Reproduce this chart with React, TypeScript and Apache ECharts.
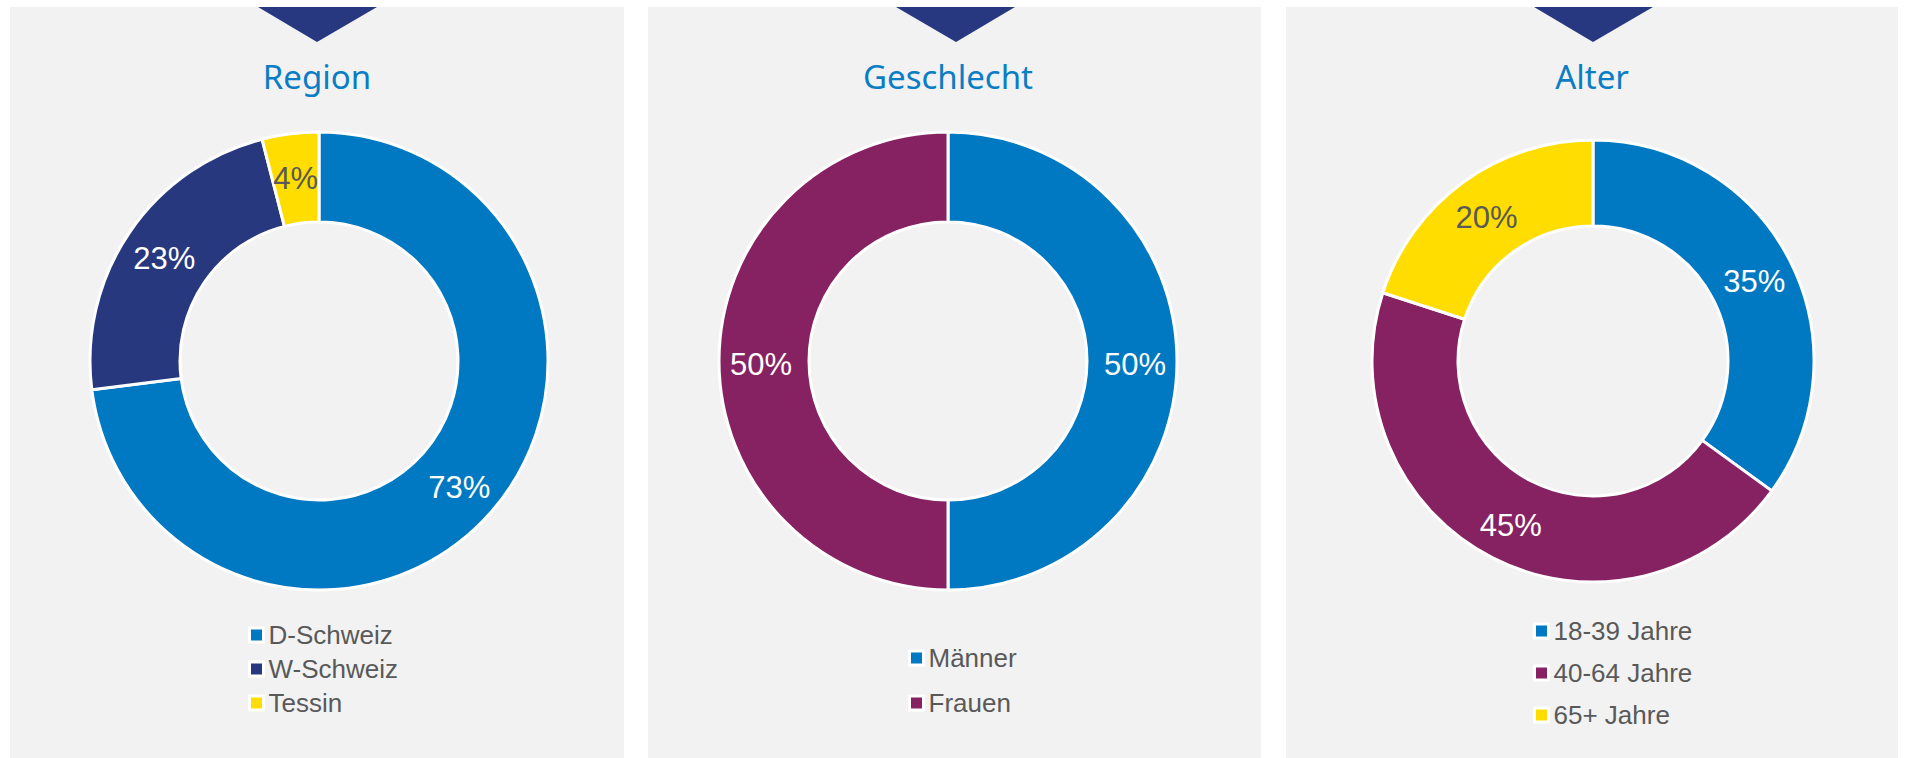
import React, { useEffect, useRef } from "react";
import * as echarts from "echarts";

// ---- data ----
const regionNames = ["D-Schweiz", "W-Schweiz", "Tessin"];
const regionValues = [73, 23, 4];
const genderNames = ["Männer", "Frauen"];
const genderValues = [50, 50];
const ageNames = ["18-39 Jahre", "40-64 Jahre", "65+ Jahre"];
const ageValues = [35, 45, 20];
const panelTitles = ["Region", "Geschlecht", "Alter"];

// ---- styling ----
const BLUE = "#0079C2";
const NAVY = "#27387F";
const YELLOW = "#FFDD00";
const PURPLE = "#862262";
const regionColors = [BLUE, NAVY, YELLOW];
const genderColors = [BLUE, PURPLE];
const ageColors = [BLUE, PURPLE, YELLOW];
const TEXT_GRAY = "#595959";
const LABEL_FONT = "'Liberation Sans', Arial, sans-serif";

function buildData(names: string[], values: number[], colors: string[]) {
  return names.map((n, i) => ({
    name: n,
    value: values[i],
    itemStyle: { color: colors[i] },
    label: { color: colors[i] === YELLOW ? TEXT_GRAY : "#ffffff" },
  }));
}

function pieSeries(
  name: string,
  center: [number, number],
  radius: [number, number],
  data: any[]
) {
  return {
    type: "pie",
    name,
    center,
    radius,
    startAngle: 90,
    clockwise: true,
    avoidLabelOverlap: false,
    itemStyle: { borderColor: "#ffffff", borderWidth: 3 },
    label: {
      show: true,
      position: "inside",
      formatter: "{c}%",
      fontSize: 31,
      fontFamily: LABEL_FONT,
      offset: [0, 3],
    },
    labelLine: { show: false },
    emphasis: { disabled: true },
    data,
  };
}

function legend(names: string[], left: number, top: number, gap: number) {
  return {
    data: names,
    orient: "vertical",
    left,
    top,
    padding: 0,
    itemGap: gap,
    itemWidth: 14,
    itemHeight: 14,
    icon: "rect",
    itemStyle: { borderColor: "#ffffff", borderWidth: 3 },
    textStyle: {
      fontSize: 26,
      lineHeight: 26,
      color: TEXT_GRAY,
      fontFamily: LABEL_FONT,
    },
    selectedMode: false,
  };
}

const panels = [
  { x: 10, w: 614, tri: [258, 377], tip: 317, titleX: 317 },
  { x: 648, w: 613, tri: [896, 1015], tip: 956, titleX: 948 },
  { x: 1286, w: 612, tri: [1534, 1653], tip: 1593, titleX: 1592 },
];

export default function App() {
  const ref = useRef<HTMLDivElement>(null);
  useEffect(() => {
    if (!ref.current) return;
    const chart = echarts.init(ref.current, undefined, { renderer: "svg" });
    const graphics: any[] = [];
    panels.forEach((p, i) => {
      graphics.push({
        type: "rect",
        shape: { x: p.x, y: 7, width: p.w, height: 751 },
        style: { fill: "#F2F2F2" },
        z: -10,
      });
      graphics.push({
        type: "polygon",
        shape: {
          points: [
            [p.tri[0], 7],
            [p.tri[1], 7],
            [p.tip, 42],
          ],
        },
        style: { fill: "#273780" },
        z: -5,
      });
      graphics.push({
        type: "text",
        x: p.titleX,
        y: 76,
        style: {
          text: panelTitles[i],
          fill: "#0A7DC4",
          fontSize: 33,
          fontFamily: "'Noto Sans', 'Open Sans', sans-serif",
          textAlign: "center",
          textVerticalAlign: "middle",
        },
        z: -5,
      });
    });

    chart.setOption({
      animation: false,
      backgroundColor: "#ffffff",
      graphic: graphics,
      legend: [
        legend(regionNames, 248, 622, 8),
        legend(genderNames, 908, 645, 19),
        legend(ageNames, 1533, 618, 16),
      ],
      series: [
        pieSeries("Region", [319, 361], [139, 229], buildData(regionNames, regionValues, regionColors)),
        pieSeries("Geschlecht", [948, 361], [139, 229], buildData(genderNames, genderValues, genderColors)),
        pieSeries("Alter", [1593, 361], [135, 221], buildData(ageNames, ageValues, ageColors)),
      ],
    });
    return () => chart.dispose();
  }, []);
  return (
    <div
      ref={ref}
      style={{ position: "absolute", left: 0, top: 0, width: 1908, height: 758 }}
    />
  );
}
